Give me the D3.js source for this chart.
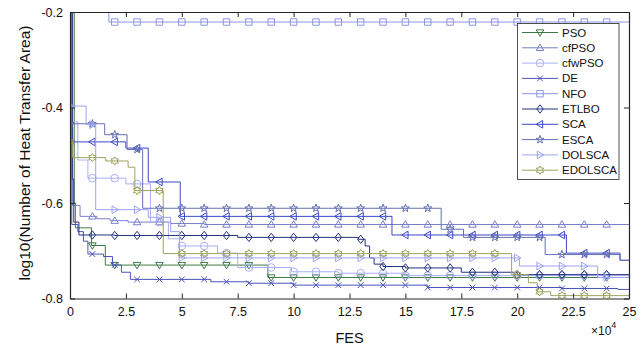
<!DOCTYPE html>
<html>
<head>
<meta charset="utf-8">
<script src="https://cdn.jsdelivr.net/npm/d3@7"></script>
<style>
  body { margin: 0; background: #fff; }
  svg { display: block; font-family: "Liberation Sans", Arial, sans-serif; }
</style>
</head>
<body>
<svg id="chart" width="643" height="351"></svg>
<script>
// x values are FES / 1e4, y values are log10(area)
var fesTicks = [0, 2.5, 5, 7.5, 10, 12.5, 15, 17.5, 20, 22.5, 25];
var yTicks = [-0.8, -0.6, -0.4, -0.2];
var algNames = ["PSO", "cfPSO", "cfwPSO", "DE", "NFO", "ETLBO", "SCA", "ESCA", "DOLSCA", "EDOLSCA"];
var algColors = ["#3e7a46", "#7880c6", "#a9b0f4", "#4a53b8", "#8c96e4", "#27327f", "#3b48c6", "#6670b3", "#9ba3f6", "#9da25e"];
var algMarkers = ["triDown", "triUp", "circle", "cross", "square", "diamond", "triLeft", "star5", "triRight", "star6"];
var markerFrom = [1, 1, 1, 1, 2, 1, 0, 0, 0, 0];

// best-so-far curves as [x, y] breakpoints (step after)
var psoSteps = [[0, -0.15], [0.19, -0.60], [0.24, -0.652], [0.96, -0.689], [1.58, -0.730], [8.85, -0.756], [25, -0.756]];
var cfpsoSteps = [[0, -0.15], [0.12, -0.605], [0.45, -0.628], [1.2, -0.633], [1.8, -0.637], [2.6, -0.640], [4.5, -0.643], [6, -0.645], [25, -0.646]];
var cfwpsoSteps = [[0, -0.43], [0.35, -0.51], [0.8, -0.548], [2.5, -0.56], [3.6, -0.64], [4.4, -0.675], [4.9, -0.69], [6.6, -0.705], [7.5, -0.735], [9.9, -0.744], [12, -0.747], [15, -0.752], [25, -0.757]];
var deSteps = [[0, -0.15], [0.08, -0.645], [0.35, -0.66], [0.6, -0.68], [0.8, -0.707], [1.5, -0.712], [1.9, -0.73], [2.3, -0.745], [2.7, -0.76], [6.3, -0.765], [8, -0.768], [10, -0.772], [16, -0.777], [22, -0.779], [24.5, -0.781], [25, -0.781]];
var nfoSteps = [[0, -0.15], [1.74, -0.221], [25, -0.221]];
var etlboSteps = [[0, -0.15], [0.1, -0.55], [0.17, -0.64], [0.4, -0.667], [2, -0.668], [7.5, -0.672], [12.9, -0.676], [13.2, -0.69], [13.4, -0.715], [13.6, -0.728], [14, -0.733], [15, -0.736], [17.5, -0.745], [20, -0.750], [25, -0.750]];
var scaSteps = [[0, -0.472], [2.5, -0.485], [3.5, -0.556], [4.93, -0.628], [14.4, -0.667], [22.2, -0.705], [24.6, -0.72], [25, -0.72]];
var escaSteps = [[0, -0.434], [1.55, -0.457], [2.55, -0.488], [3.25, -0.611], [16.6, -0.655], [17.6, -0.672], [21.25, -0.708], [24.6, -0.72], [25, -0.72]];
var dolscaSteps = [[0, -0.397], [0.72, -0.436], [1.15, -0.614], [3.5, -0.63], [4.5, -0.66], [4.9, -0.715], [20.1, -0.732], [23.6, -0.756], [25, -0.757]];
var edolscaSteps = [[0, -0.472], [0.12, -0.505], [1.6, -0.512], [2.6, -0.525], [2.9, -0.574], [4.17, -0.706], [19.75, -0.750], [20.5, -0.767], [20.9, -0.786], [21.5, -0.794], [25, -0.794]];
var allSteps = [psoSteps, cfpsoSteps, cfwpsoSteps, deSteps, nfoSteps, etlboSteps, scaSteps, escaSteps, dolscaSteps, edolscaSteps];

var svg = d3.select("#chart");
var plotLeft = 70, plotRight = 629, plotTop = 12, plotBottom = 298.5;

var x = d3.scaleLinear().domain([0, 25]).range([plotLeft, plotRight]);
var y = d3.scaleLinear().domain([-0.8, -0.2]).range([plotBottom, plotTop]);

svg.append("rect").attr("width", 643).attr("height", 351).attr("fill", "#fff");

svg.append("clipPath").attr("id", "plotClip")
  .append("rect")
  .attr("x", plotLeft).attr("y", plotTop)
  .attr("width", plotRight - plotLeft).attr("height", plotBottom - plotTop);

function markerPath(kind, r) {
  var p;
  if (kind == "triDown") {
    return "M" + (-r) + "," + (-r * 0.7) + "L" + r + "," + (-r * 0.7) + "L0," + (r * 1.0) + "Z";
  } else if (kind == "triUp") {
    return "M" + (-r) + "," + (r * 0.7) + "L" + r + "," + (r * 0.7) + "L0," + (-r * 1.0) + "Z";
  } else if (kind == "triLeft") {
    return "M" + (-r) + ",0L" + (r * 0.7) + "," + (-r) + "L" + (r * 0.7) + "," + r + "Z";
  } else if (kind == "triRight") {
    return "M" + r + ",0L" + (-r * 0.7) + "," + (-r) + "L" + (-r * 0.7) + "," + r + "Z";
  } else if (kind == "circle") {
    return "M" + r + ",0A" + r + "," + r + " 0 1,1 " + (-r) + ",0A" + r + "," + r + " 0 1,1 " + r + ",0Z";
  } else if (kind == "cross") {
    var c = r * 0.75;
    return "M" + (-c) + "," + (-c) + "L" + c + "," + c + "M" + (-c) + "," + c + "L" + c + "," + (-c);
  } else if (kind == "square") {
    var s = r * 0.85;
    return "M" + (-s) + "," + (-s) + "H" + s + "V" + s + "H" + (-s) + "Z";
  } else if (kind == "diamond") {
    return "M0," + (-r * 1.1) + "L" + (r * 0.85) + ",0L0," + (r * 1.1) + "L" + (-r * 0.85) + ",0Z";
  } else if (kind == "star5" || kind == "star6") {
    var n = kind == "star5" ? 5 : 6;
    var inner = kind == "star5" ? 0.4 : 0.58;
    p = "";
    for (var i = 0; i < n * 2; i++) {
      var a = -Math.PI / 2 + i * Math.PI / n;
      var rr = i % 2 == 0 ? r * 1.1 : r * 1.1 * inner;
      p += (i == 0 ? "M" : "L") + (rr * Math.cos(a)).toFixed(2) + "," + (rr * Math.sin(a)).toFixed(2);
    }
    return p + "Z";
  }
}

// value of a step curve at fes
function stepValue(steps, fes) {
  var i = d3.bisector(function(d) { return d[0]; }).right(steps, fes) - 1;
  return steps[Math.max(i, 0)][1];
}

var line = d3.line()
  .x(function(d) { return x(d[0]); })
  .y(function(d) { return y(d[1]); })
  .curve(d3.curveStepAfter);

var plot = svg.append("g").attr("clip-path", "url(#plotClip)");

allSteps.forEach(function(steps, k) {
  var g = plot.append("g").attr("class", "series");
  g.append("path")
    .datum(steps)
    .attr("fill", "none")
    .attr("stroke", algColors[k])
    .attr("stroke-width", 1)
    .attr("d", line);

  var marks = d3.range(markerFrom[k], 25);
  g.selectAll(".mk").data(marks).enter().append("path")
    .attr("class", "mk")
    .attr("fill", "none")
    .attr("stroke", algColors[k])
    .attr("stroke-width", 1)
    .attr("transform", function(d) { return "translate(" + x(d) + "," + y(stepValue(steps, d)) + ")"; })
    .attr("d", markerPath(algMarkers[k], 3.8));
});

// axes box with inward ticks
var axisColor = "#262626";
var bottomAxis = svg.append("g").attr("transform", "translate(0," + plotBottom + ")")
  .call(d3.axisBottom(x).tickValues(fesTicks).tickSize(-5).tickSizeOuter(0).tickPadding(9)
    .tickFormat(function(d) { return String(d); }));
var topAxis = svg.append("g").attr("transform", "translate(0," + plotTop + ")")
  .call(d3.axisTop(x).tickValues(fesTicks).tickSize(-5).tickSizeOuter(0).tickFormat(""));
var leftAxis = svg.append("g").attr("transform", "translate(" + plotLeft + ",0)")
  .call(d3.axisLeft(y).tickValues(yTicks).tickSize(-5).tickSizeOuter(0).tickPadding(7)
    .tickFormat(function(d) { return d.toFixed(1); }));
var rightAxis = svg.append("g").attr("transform", "translate(" + plotRight + ",0)")
  .call(d3.axisRight(y).tickValues(yTicks).tickSize(-5).tickSizeOuter(0).tickFormat(""));

[bottomAxis, topAxis, leftAxis, rightAxis].forEach(function(a) {
  a.selectAll("path.domain").attr("stroke", axisColor).attr("stroke-width", 1.2);
  a.selectAll(".tick line").attr("stroke", axisColor).attr("stroke-width", 1);
  a.selectAll(".tick text").attr("fill", "#111").attr("font-size", 12.5)
    .attr("font-family", "'Liberation Sans', Arial, sans-serif");
});

// legend
var legend = svg.append("g").attr("class", "legend");
legend.append("rect")
  .attr("x", 517.5).attr("y", 23.5)
  .attr("width", 101.5).attr("height", 156)
  .attr("fill", "#fff").attr("stroke", axisColor).attr("stroke-width", 0.8);

algNames.forEach(function(name, k) {
  var ly = 32.5 + k * 15.3;
  legend.append("line")
    .attr("x1", 522).attr("x2", 558).attr("y1", ly).attr("y2", ly)
    .attr("stroke", algColors[k]).attr("stroke-width", 1);
  legend.append("path")
    .attr("fill", "none").attr("stroke", algColors[k]).attr("stroke-width", 1)
    .attr("transform", "translate(540," + ly + ")")
    .attr("d", markerPath(algMarkers[k], 3.8));
  legend.append("text")
    .attr("x", 562).attr("y", ly + 4)
    .attr("font-size", 11.5).attr("fill", "#111")
    .text(name);
});

// axis titles
svg.append("text")
  .attr("x", (plotLeft + plotRight) / 2).attr("y", 343)
  .attr("text-anchor", "middle").attr("font-size", 14.5).attr("fill", "#111")
  .text("FES");

var expo = svg.append("text")
  .attr("x", 591).attr("y", 335)
  .attr("font-size", 12).attr("fill", "#111");
expo.append("tspan").text("\u00d710");
expo.append("tspan").attr("dy", -7).attr("font-size", 9).text("4");

svg.append("text")
  .attr("transform", "translate(30,153) rotate(-90)")
  .attr("text-anchor", "middle").attr("font-size", 15.5).attr("fill", "#111")
  .text("log10(Number of Heat Transfer Area)");
</script>
</body>
</html>
